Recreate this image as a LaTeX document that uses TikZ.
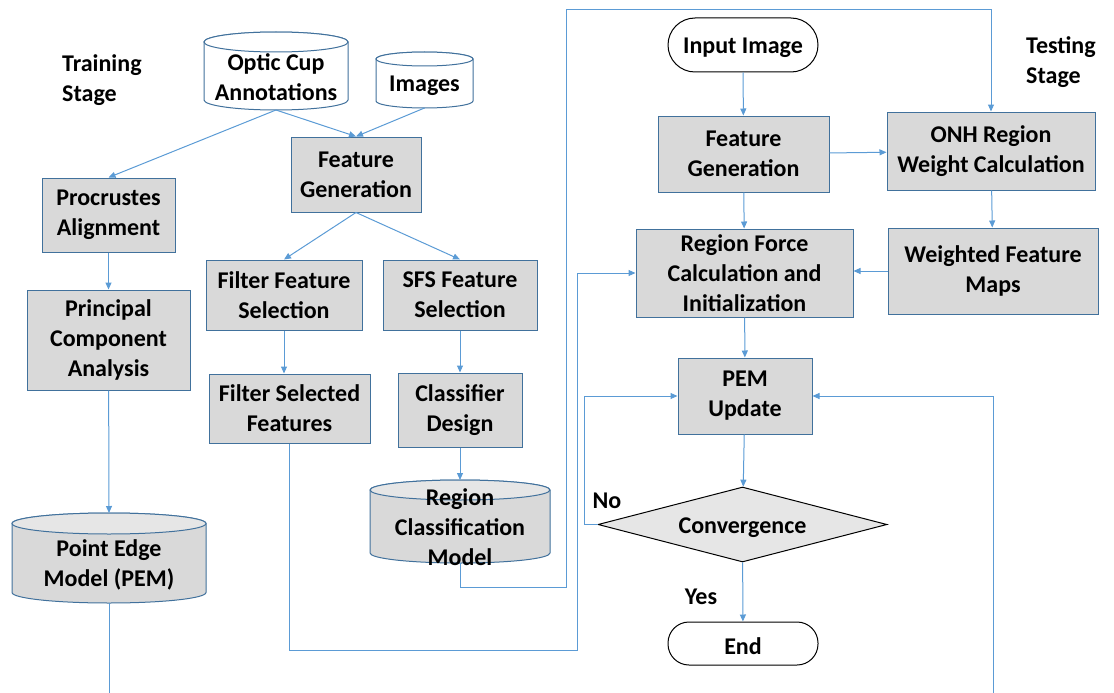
\documentclass[tikz,border=0pt]{standalone}
\usepackage{fontspec}
\setmainfont{Carlito}
\usetikzlibrary{arrows.meta,shapes.geometric}
\definecolor{boxfill}{HTML}{D9D9D9}
\definecolor{boxline}{HTML}{41719C}
\definecolor{wire}{HTML}{5B9BD5}
\definecolor{cyltop}{HTML}{E6E6E6}
\definecolor{dfill}{HTML}{E6E6E6}
\newcommand\cylbody[7]{%
  \path[draw=boxline, fill=#6, line width=1pt] (#1,{-(#2+#5)}) -- (#1,{-(#4-#5)})
    arc[start angle=180, end angle=360, x radius={(#3-#1)/2}, y radius=#5]
    -- (#3,{-(#2+#5)})
    arc[start angle=0, end angle=180, x radius={(#3-#1)/2}, y radius=#5] -- cycle;
  \path[draw=boxline, fill=#7, line width=1pt] ({(#1+#3)/2},{-(#2+#5)}) ellipse[x radius={(#3-#1)/2}, y radius=#5];
}
\tikzset{
  txt/.style={font=\fontsize{24}{30}\selectfont\bfseries, align=center, inner sep=0pt},
  stxt/.style={txt, execute at begin node={\rule{0pt}{22pt}}},
  gbox/.style={stxt, draw=boxline, fill=boxfill, line width=1pt, rectangle},
  cylbox/.style={draw=none, inner sep=0pt, outer sep=0pt, rectangle},
  pill/.style={stxt, draw=black, fill=white, line width=1pt, rectangle},
  conv/.style={stxt, diamond, draw=black, fill=dfill, line width=1pt, aspect=3.85, inner sep=0pt},
  ln/.style={draw=wire, line width=1pt},
  arr/.style={ln, -{Triangle[length=7pt,width=6pt]}},
}
\begin{document}
\begin{tikzpicture}[x=1pt,y=1pt]
\useasboundingbox (0,0) rectangle (1114,-693);

% stage labels
\node[txt, anchor=west, align=left] (trs) at (62,-80) {Training\\Stage};
\node[txt, anchor=west, align=left] (tes) at (1026,-62) {Testing\\Stage};

% cylinders
\cylbody{204}{32}{348}{110}{10}{white}{white}
\node[cylbox, minimum width=144, minimum height=78] (oca) at (276,-71) {};
\node[txt] (ocat) at (276,-77.5) {Optic Cup\\Annotations};

\cylbody{376}{52}{473}{108}{7}{white}{white}
\node[cylbox, minimum width=97, minimum height=56] (img) at (424.5,-80) {};
\node[txt] (imgt) at (424.5,-86) {Images};

\cylbody{12}{513}{206}{603}{10.5}{boxfill}{cyltop}
\node[cylbox, minimum width=194, minimum height=90] (pem) at (109,-558) {};
\node[txt] (pemt) at (109,-565) {Point Edge\\Model (PEM)};

\cylbody{370}{480}{550}{563}{10}{boxfill}{cyltop}
\node[cylbox, minimum width=180, minimum height=83] (rcm) at (460,-521.5) {};
\node[txt] (rcmt) at (460,-527.5) {Region\\Classification\\Model};

% training boxes
\node[gbox, minimum width=130, minimum height=75] (fgl) at (356,-174.5) {Feature\\Generation};
\node[gbox, minimum width=133, minimum height=74] (pa) at (108.5,-215) {Procrustes\\Alignment};
\node[gbox, minimum width=163, minimum height=100] (pca) at (108.5,-340) {Principal\\Component\\Analysis};
\node[gbox, minimum width=156, minimum height=70] (ffs) at (284,-295) {Filter Feature\\Selection};
\node[gbox, minimum width=154, minimum height=70] (sfs) at (460,-295) {SFS Feature\\Selection};
\node[gbox, minimum width=161, minimum height=69] (fsf) at (289.5,-408.5) {Filter Selected\\Features};
\node[gbox, minimum width=124, minimum height=74] (cd) at (460,-410) {Classifier\\Design};

% testing nodes
\node[pill, rounded corners=27pt, minimum width=150, minimum height=54] (ii) at (743,-45) {Input Image};
\node[gbox, minimum width=171, minimum height=76] (fgr) at (743.5,-154) {Feature\\Generation};
\node[gbox, minimum width=208, minimum height=78] (onh) at (991,-151) {ONH Region\\Weight Calculation};
\node[gbox, minimum width=217, minimum height=88] (rf) at (744.5,-273) {Region Force\\Calculation and\\Initialization};
\node[gbox, minimum width=210, minimum height=86] (wfm) at (993,-271) {Weighted Feature\\Maps};
\node[gbox, minimum width=134, minimum height=76] (pu) at (745,-396) {PEM\\Update};
\node[conv, minimum width=289, minimum height=75] (cv) at (742.5,-524.5) {Convergence};
\node[pill, rounded corners=21pt, minimum width=150, minimum height=43] (en) at (743,-643.5) {End};

\node[stxt] (no) at (607,-498) {No};
\node[stxt] (yes) at (701,-594) {Yes};

% coordinates for free ends and bends
\coordinate (pemout) at (109,-693);
\coordinate (pemin) at (993,-693);
\coordinate (jA) at (566,-10);
\coordinate (jB) at (577,-273);

% training connectors
\draw[arr] (oca.south) -- (pa.north);
\draw[arr] (oca.south) -- (fgl.north);
\draw[arr] (img.south) -- (fgl.north);
\draw[arr] (pa) -- (pca);
\draw[arr] (pca) -- (pem.north);
\draw[ln] (pem.south) -- (pemout);
\draw[arr] (fgl.south) -- (ffs.north);
\draw[arr] (fgl.south) -- (sfs.north);
\draw[arr] (ffs.south) -- (ffs.south |- fsf.north);
\draw[arr] (sfs) -- (cd);
\draw[arr] (cd) -- (rcm.north);
\draw[arr] (rcm.south) -- ++(0,-24) -| (jA) -| (onh.north);
\draw[arr] (fsf.south) -- ++(0,-207) -| (jB) -- (rf.west);

% testing connectors
\draw[arr] (ii) -- (fgr);
\draw[arr] (fgr) -- (onh);
\draw[arr] (onh) -- (wfm);
\draw[arr] (wfm.west) -- (wfm.west -| rf.east);
\draw[arr] (fgr) -- (rf);
\draw[arr] (rf) -- (pu);
\draw[arr] (pu) -- (cv);
\draw[arr] (cv.west) -- ++(-13,0) |- (pu.west);
\draw[arr] (cv) -- (en);
\draw[arr] (pemin) |- (pu.east);
\end{tikzpicture}
\end{document}
